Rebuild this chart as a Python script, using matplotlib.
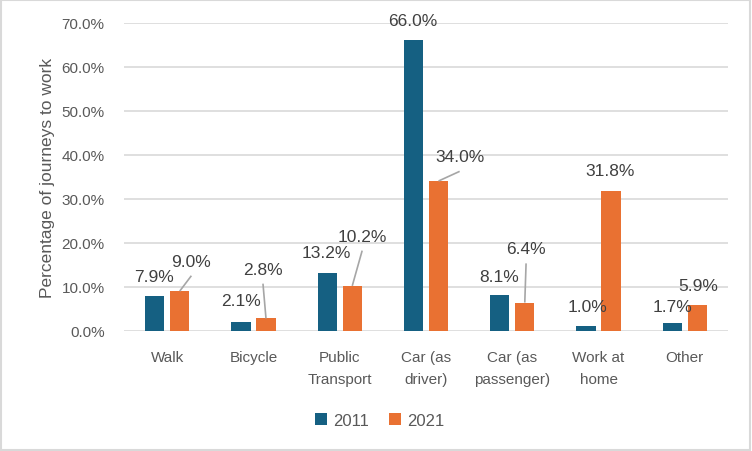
import matplotlib.pyplot as plt
import numpy as np
from matplotlib.ticker import PercentFormatter

plt.rcParams['font.family'] = ['Liberation Sans', 'DejaVu Sans']

modes = ["Walk", "Bicycle", "Public\nTransport", "Car (as\ndriver)",
         "Car (as\npassenger)", "Work at\nhome", "Other"]
share_2011 = [7.9, 2.1, 13.2, 66.0, 8.1, 1.0, 1.7]
share_2021 = [9.0, 2.8, 10.2, 34.0, 6.4, 31.8, 5.9]

# label placement (data units), as laid out in the source chart
lab_2011 = [(-0.15, 12.4), (0.85, 6.8), (1.85, 17.7), (2.85, 70.4),
            (3.85, 12.4), (4.87, 5.4), (5.86, 5.4)]
lab_2021 = [(0.28, 15.8), (1.11, 14.0), (2.26, 21.5), (3.39, 39.5),
            (4.16, 18.6), (5.13, 36.3), (6.15, 10.2)]
leader_2021 = [True, True, True, True, True, False, False]

c2011 = '#156082'
c2021 = '#E97132'
txt = '#404040'
grey = '#595959'

fig = plt.figure(figsize=(7.52, 4.52), dpi=100)
ax = fig.add_axes([0.165, 0.266, 0.803, 0.682])

x = np.arange(len(modes))
w = 0.225
off = 0.145
ax.bar(x - off, share_2011, w, color=c2011, label='2011', zorder=3)
ax.bar(x + off, share_2021, w, color=c2021, label='2021', zorder=3)

for i in range(len(modes)):
    lx, ly = lab_2011[i]
    ax.text(lx, ly, f'{share_2011[i]:.1f}%', ha='center', va='center',
            fontsize=12.5, color=txt, zorder=4)
    lx, ly = lab_2021[i]
    ax.text(lx, ly, f'{share_2021[i]:.1f}%', ha='center', va='center',
            fontsize=12.5, color=txt, zorder=4)
    if leader_2021[i]:
        ax.plot([x[i] + off, lx], [share_2021[i], ly - 3.3],
                color='#a6a6a6', lw=1.2, zorder=4, solid_capstyle='butt')

ax.set_xlim(-0.5, len(modes) - 0.5)
ax.set_ylim(0, 70)
ax.set_yticks(np.arange(0, 71, 10))
ax.yaxis.set_major_formatter(PercentFormatter(decimals=1))
ax.set_xticks(x)
ax.set_xticklabels(modes, linespacing=1.75)
ax.tick_params(axis='x', length=0, pad=14, labelsize=11, labelcolor=grey)
ax.tick_params(axis='y', length=0, pad=14, labelsize=11, labelcolor=grey)
ax.grid(axis='y', color='#d9d9d9', lw=1.2, zorder=0)
for s in ax.spines.values():
    s.set_visible(False)
ax.set_ylabel('Percentage of journeys to work', fontsize=12.5, color=grey, labelpad=5)

leg = fig.legend(loc='center', bbox_to_anchor=(0.505, 0.068), ncol=2, frameon=False,
                 fontsize=12, handlelength=0.7, handleheight=0.7,
                 handletextpad=0.4, columnspacing=1.2)
for t in leg.get_texts():
    t.set_color(grey)

fig.patches.append(plt.Rectangle((0.001, 0.002), 0.997, 0.996, transform=fig.transFigure,
                                 fill=False, edgecolor='#d9d9d9', lw=1.5))

fig.savefig('out.png', dpi=100)
